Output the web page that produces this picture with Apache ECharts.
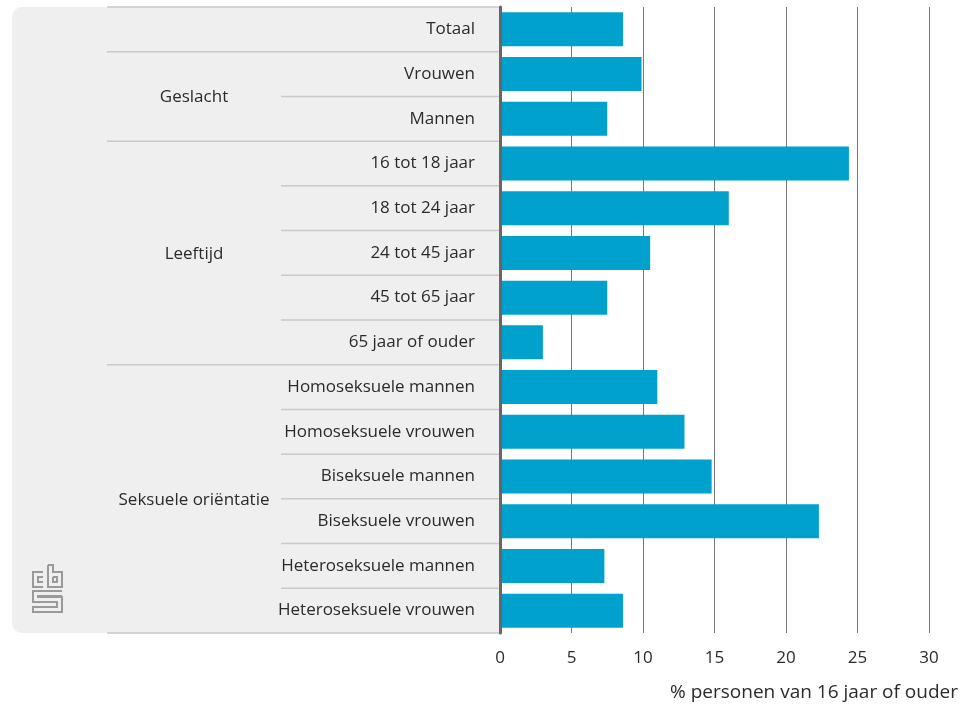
<!DOCTYPE html>
<html>
<head>
<meta charset="utf-8">
<script src="https://cdn.jsdelivr.net/npm/echarts@6/dist/echarts.min.js"></script>
<style>
  html, body { margin: 0; padding: 0; background: #fff; }
  #chart { width: 968px; height: 706px; }
</style>
</head>
<body>
<div id="chart"></div>
<script>
var categories = ['Totaal', 'Vrouwen', 'Mannen', '16 tot 18 jaar', '18 tot 24 jaar', '24 tot 45 jaar',
    '45 tot 65 jaar', '65 jaar of ouder', 'Homoseksuele mannen', 'Homoseksuele vrouwen',
    'Biseksuele mannen', 'Biseksuele vrouwen', 'Heteroseksuele mannen', 'Heteroseksuele vrouwen'];
var values = [8.6, 9.9, 7.5, 24.4, 16.0, 10.5, 7.5, 3.0, 11.0, 12.9, 14.8, 22.3, 7.3, 8.6];
var groupNames = ['', 'Geslacht', 'Leeftijd', 'Seksuele oriëntatie'];
var groupStart = [0, 1, 3, 8];
var groupEnd = [0, 2, 7, 13];
var xTicks = [0, 5, 10, 15, 20, 25, 30];
var axisTitle = '% personen van 16 jaar of ouder';

var font = '"Open Sans"';
var myChart = echarts.init(document.getElementById('chart'));

var option = {
    animation: false,
    grid: { left: 500, right: 39, top: 7, bottom: 73 },
    xAxis: {
        type: 'value',
        min: xTicks[0],
        max: xTicks[xTicks.length - 1],
        interval: 5,
        axisLine: { show: false },
        axisTick: { show: false },
        axisLabel: { color: '#2b2b2b', fontSize: 17, fontFamily: font, margin: 17 },
        splitLine: { lineStyle: { color: '#777', width: 1 } }
    },
    yAxis: {
        type: 'category',
        inverse: true,
        data: categories,
        axisLine: { show: true, lineStyle: { color: '#666', width: 3 } },
        axisTick: { show: false },
        axisLabel: { color: '#2b2b2b', fontSize: 17, fontFamily: font, margin: 25, padding: [2, 0, 0, 0] },
        z: 5
    },
    series: [{
        type: 'bar',
        data: values,
        barCategoryGap: '24%',
        itemStyle: { color: '#00a1cd' }
    }]
};
myChart.setOption(option);

// panel, separators, group labels, logo
var top0 = myChart.convertToPixel({ yAxisIndex: 0 }, 0);
var top1 = myChart.convertToPixel({ yAxisIndex: 0 }, 1);
var band = top1 - top0;
var gridTop = top0 - band / 2;
var gridBottom = gridTop + band * categories.length;
var axisX = myChart.convertToPixel({ xAxisIndex: 0 }, 0);

var graphics = [{
    type: 'rect', z: -10, silent: true,
    shape: { x: 12, y: gridTop, width: axisX - 12, height: gridBottom - gridTop, r: [10, 0, 0, 10] },
    style: { fill: '#efefef' }
}];

function sepLine(y, x0) {
    graphics.push({
        type: 'line', z: -5, silent: true,
        shape: { x1: x0, y1: y, x2: axisX, y2: y },
        style: { stroke: '#c9c9c9', lineWidth: 1.5 }
    });
}

sepLine(gridTop, 107);
for (var i = 0; i < categories.length; i++) {
    var yb = gridTop + band * (i + 1);
    var isGroupEnd = groupEnd.indexOf(i) >= 0;
    sepLine(yb, isGroupEnd ? 107 : 281);
}

for (var g = 0; g < groupNames.length; g++) {
    if (!groupNames[g]) continue;
    var yc = gridTop + band * (groupStart[g] + groupEnd[g] + 1) / 2;
    graphics.push({
        type: 'text', silent: true,
        x: 194, y: yc + 1,
        style: { text: groupNames[g], fill: '#2b2b2b', font: '17px ' + font, align: 'center', verticalAlign: 'middle' }
    });
}

graphics.push({
    type: 'text', silent: true,
    x: 958, y: 693,
    style: { text: axisTitle, fill: '#2b2b2b', font: '19px ' + font, align: 'right', verticalAlign: 'middle' }
});

// logo
var logoStroke = { stroke: '#9a9a9a', lineWidth: 2, fill: null };
var logoParts = [
    [[43, 572], [33, 572], [33, 587], [43, 587]],
    [[43, 577], [38, 577], [38, 582], [43, 582]],
    [[48, 565], [48, 587], [62, 587], [62, 572], [53, 572], [53, 565], [48, 565]],
    [[53, 577], [57, 577], [57, 582], [53, 582], [53, 577]],
    [[62, 591], [33, 591], [33, 602], [57, 602], [57, 607], [33, 607], [33, 612], [62, 612], [62, 597], [38, 597], [38, 596], [62, 596]]
];
logoParts.forEach(function(p) {
    graphics.push({ type: 'polyline', silent: true, shape: { points: p }, style: logoStroke });
});

myChart.setOption({ graphic: graphics });
</script>
</body>
</html>
